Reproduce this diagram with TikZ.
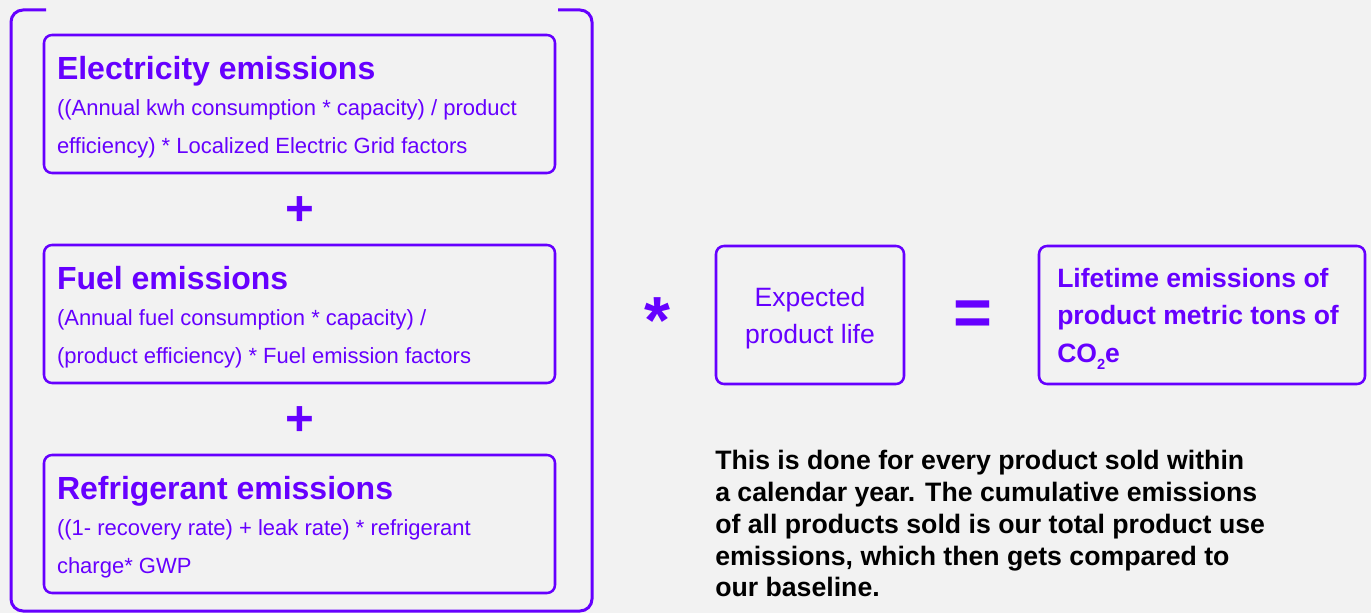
\documentclass[tikz,border=0pt]{standalone}
\usepackage{fontspec}
\setmainfont{Liberation Sans}
\definecolor{vio}{HTML}{6600FF}
\definecolor{bgc}{HTML}{F2F2F2}
\begin{document}
\begin{tikzpicture}[x=0.75pt,y=-0.75pt,
  termbox/.style={draw=vio, line width=1.9pt, rounded corners=6pt, inner sep=0pt,
    minimum height=103.5pt},
  ttl/.style={anchor=base west, inner sep=0pt, text=vio,
    font=\fontsize{24}{28}\selectfont\bfseries},
  bodytxt/.style={anchor=base west, inner sep=0pt, text=vio, align=left,
    font=\fontsize{16.5}{28.5}\selectfont},
  optxt/.style={text=vio, inner sep=0pt},
  bracket/.style={draw=vio, line width=2.25pt, rounded corners=9pt}]
\fill[bgc] (0,0) rectangle (1371,613);
\useasboundingbox (0,0) rectangle (1371,613);

% outer bracket
\draw[bracket] (46,10) -- (11,10) -- (11,611) -- (592,611) -- (592,10) -- (558,10);

% left term boxes
\node[termbox, minimum width=383.25pt] (e1) at (299.5,104) {};
\node[termbox, minimum width=383.25pt] (e2) at (299.5,314) {};
\node[termbox, minimum width=383.25pt] (e3) at (299.5,524) {};

% (multi-line nodes: base anchor = baseline of the last line)
\node[ttl] (t1) at ([shift={(14,46)}]e1.north west) {Electricity emissions};
\node[bodytxt] (b1) at ([shift={(14,120)}]e1.north west)
  {((Annual kwh consumption * capacity) / product\\efficiency) * Localized Electric Grid factors};
\node[ttl] (t2) at ([shift={(14,46)}]e2.north west) {Fuel emissions};
\node[bodytxt] (b2) at ([shift={(14,120)}]e2.north west)
  {(Annual fuel consumption * capacity) /\\(product efficiency) * Fuel emission factors};
\node[ttl] (t3) at ([shift={(14,46)}]e3.north west) {Refrigerant emissions};
\node[bodytxt] (b3) at ([shift={(14,120)}]e3.north west)
  {((1- recovery rate) + leak rate) * refrigerant\\charge* GWP};

% operators
\node[optxt, font=\fontsize{37}{37}\selectfont\bfseries] (p1) at (299.5,211) {+};
\node[optxt, font=\fontsize{37}{37}\selectfont\bfseries] (p2) at (299.5,421) {+};
\node[optxt, font=\fontsize{50}{50}\selectfont\bfseries] (mul) at (657,321) {*};
\node[optxt, font=\fontsize{50}{50}\selectfont\bfseries] (eq) at (973,318) {=};

% right boxes
\node[termbox, minimum width=141pt] (life) at (810,315) {};
\node[text=vio, align=center, inner sep=0pt,
  font=\fontsize{19.9}{27.75}\selectfont] (lt) at (810,318) {Expected\\product life};
\node[termbox, minimum width=244.5pt] (res) at (1202,315) {};
\node[anchor=base west, inner sep=0pt, text=vio, align=left,
  font=\fontsize{19.9}{28}\selectfont\bfseries] (rt) at (1057,362.2)
  {Lifetime emissions of\\product metric tons of\\CO\raisebox{-0.28em}{\fontsize{11}{11}\selectfont 2}e};

% note
\node[anchor=base west, inner sep=0pt, text=black, align=left,
  font=\fontsize{20}{23.8}\selectfont\bfseries] (note) at (715,596.8)
  {This is done for every product sold within\\a calendar year. The cumulative emissions\\of all products sold is our total product use\\emissions, which then gets compared to\\our baseline.};
\end{tikzpicture}
\end{document}
